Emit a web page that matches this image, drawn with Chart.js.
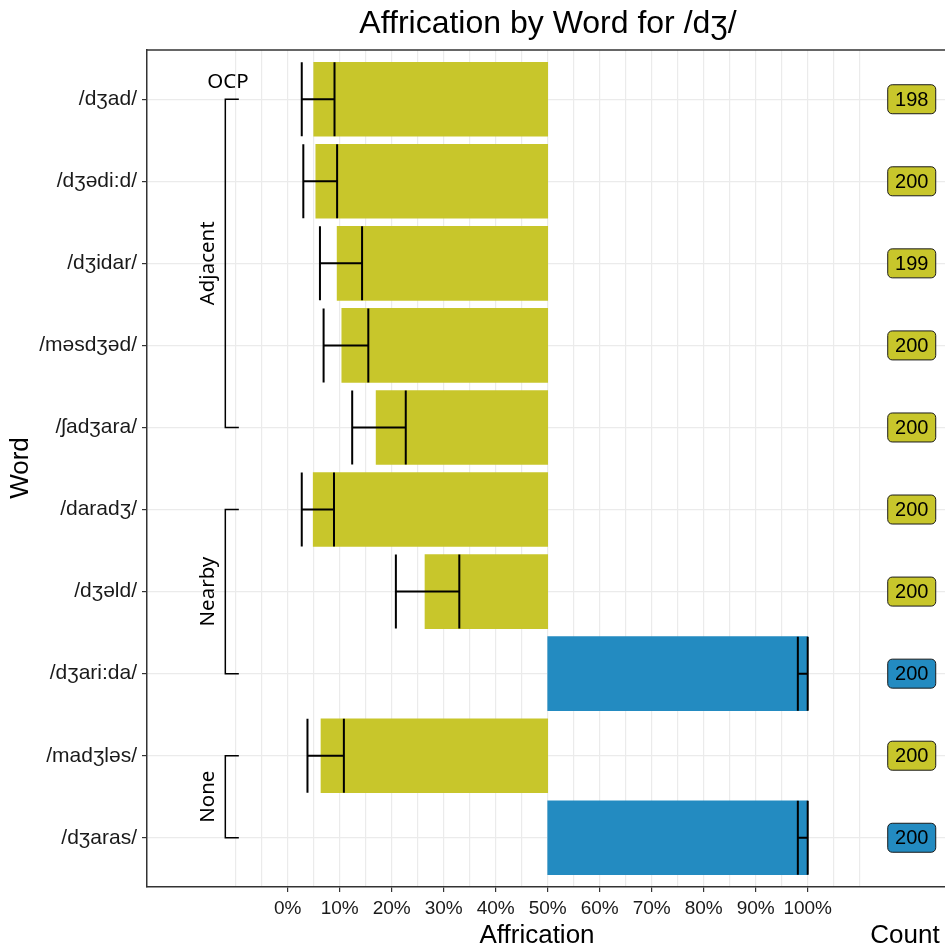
<!DOCTYPE html>
<html>
<head>
<meta charset="utf-8">
<script src="https://cdn.jsdelivr.net/npm/chart.js@4"></script>
<style>
  html, body { margin: 0; padding: 0; background: #fff; overflow: hidden; }
  canvas { display: block; }
</style>
</head>
<body>
<canvas id="chart" width="945" height="948"></canvas>
<script>
// values (percent affrication)
const words = ['/dʒad/', '/dʒədi:d/', '/dʒidar/', '/məsdʒəd/', '/ʃadʒara/',
               '/daradʒ/', '/dʒəld/', '/dʒari:da/', '/madʒləs/', '/dʒaras/'];
const affrication = [5.0, 5.4, 9.5, 10.4, 17.0, 4.9, 26.4, 100, 6.4, 100];
const ciLow  = [2.7, 3.0, 6.2, 6.9, 12.4, 2.7, 20.8, 98.1, 3.8, 98.1];
const ciHigh = [9.0, 9.5, 14.3, 15.5, 22.7, 8.9, 33.0, 100, 10.8, 100];
const counts = [198, 200, 199, 200, 200, 200, 200, 200, 200, 200];

const groupNames = ['Adjacent', 'Nearby', 'None'];
const groupFirst = [0, 5, 8];
const groupLast  = [4, 7, 9];
const subLabel = 'OCP';

const xLabelTicks = [0, 10, 20, 30, 40, 50, 60, 70, 80, 90, 100];
const xGridTicks = [-10, -5, 0, 5, 10, 15, 20, 25, 30, 35, 40, 45, 50, 55,
                    60, 65, 70, 75, 80, 85, 90, 95, 100, 105, 110];

const OLIVE = '#C8C62B';
const BLUE = '#238BC1';
const SANS = '"Liberation Sans", Arial, sans-serif';
const colors = affrication.map(v => v > 50 ? BLUE : OLIVE);

// error bars, brackets, count badges, titles
const extras = {
    id: 'extras',
    afterDatasetsDraw(chart) {
        const ctx = chart.ctx;
        const xs = chart.scales.x, ys = chart.scales.y;
        const area = chart.chartArea;
        ctx.save();

        // top border of the panel
        ctx.strokeStyle = '#333';
        ctx.lineWidth = 1.5;
        ctx.beginPath();
        ctx.moveTo(area.left, area.top);
        ctx.lineTo(area.right, area.top);
        ctx.stroke();

        // error bars
        ctx.strokeStyle = '#000';
        ctx.lineWidth = 2;
        const half = 37;
        words.forEach((w, i) => {
            const y = ys.getPixelForValue(i);
            const x1 = xs.getPixelForValue(ciLow[i]);
            const x2 = xs.getPixelForValue(ciHigh[i]);
            ctx.beginPath();
            ctx.moveTo(x1, y); ctx.lineTo(x2, y);
            ctx.moveTo(x1, y - half); ctx.lineTo(x1, y + half);
            ctx.moveTo(x2, y - half); ctx.lineTo(x2, y + half);
            ctx.stroke();
        });

        // group brackets
        ctx.lineWidth = 1.5;
        ctx.fillStyle = '#000';
        ctx.font = '20.5px "Noto Sans", sans-serif';
        const bx = xs.getPixelForValue(-12);
        const bt = xs.getPixelForValue(-9.4);
        const lx = xs.getPixelForValue(-15.3);
        groupNames.forEach((g, k) => {
            const y1 = ys.getPixelForValue(groupFirst[k]);
            const y2 = ys.getPixelForValue(groupLast[k]);
            ctx.beginPath();
            ctx.moveTo(bt, y1); ctx.lineTo(bx, y1); ctx.lineTo(bx, y2); ctx.lineTo(bt, y2);
            ctx.stroke();
            ctx.save();
            ctx.translate(lx, (y1 + y2) / 2);
            ctx.rotate(-Math.PI / 2);
            ctx.textAlign = 'center';
            ctx.textBaseline = 'middle';
            ctx.fillText(g, 0, 0);
            ctx.restore();
        });
        ctx.textAlign = 'center';
        ctx.textBaseline = 'middle';
        ctx.fillText(subLabel, xs.getPixelForValue(-11.5), ys.getPixelForValue(groupFirst[0]) - 17);

        // count badges
        ctx.font = '20px ' + SANS;
        const cx = xs.getPixelForValue(120);
        counts.forEach((c, i) => {
            const y = ys.getPixelForValue(i);
            ctx.beginPath();
            ctx.roundRect(cx - 24, y - 14.5, 48, 29, 4.5);
            ctx.fillStyle = colors[i];
            ctx.fill();
            ctx.lineWidth = 1;
            ctx.strokeStyle = '#1a1a1a';
            ctx.stroke();
            ctx.fillStyle = '#000';
            ctx.fillText(String(c), cx, y + 1);
        });

        // titles
        ctx.fillStyle = '#000';
        ctx.textBaseline = 'alphabetic';
        ctx.font = '32px ' + SANS;
        ctx.fillText('Affrication by Word for /dʒ/', 548, 33);
        ctx.font = '26px ' + SANS;
        ctx.fillText('Affrication', 537, 943);
        ctx.fillText('Count', 905, 943);
        ctx.save();
        ctx.translate(28, 468);
        ctx.rotate(-Math.PI / 2);
        ctx.fillText('Word', 0, 0);
        ctx.restore();

        ctx.restore();
    }
};

const ctx = document.getElementById('chart');
new Chart(ctx, {
    type: 'bar',
    data: {
        datasets: [{
            data: words.map((w, i) => ({
                y: i,
                x: [Math.min(affrication[i], 50), Math.max(affrication[i], 50)]
            })),
            backgroundColor: colors,
            borderWidth: 0,
            barThickness: 74
        }]
    },
    options: {
        indexAxis: 'y',
        responsive: false,
        animation: false,
        layout: { padding: { top: 50, left: 0, right: 0, bottom: 0 } },
        plugins: {
            legend: { display: false },
            tooltip: { enabled: false }
        },
        scales: {
            x: {
                type: 'linear',
                min: -27.06,
                max: 126.4,
                afterBuildTicks: s => { s.ticks = xGridTicks.map(v => ({ value: v })); },
                afterFit: s => { s.height = 61; },
                ticks: {
                    autoSkip: false,
                    maxRotation: 0,
                    padding: 5,
                    color: '#1a1a1a',
                    font: { family: SANS, size: 19 },
                    callback: v => xLabelTicks.includes(v) ? v + '%' : ''
                },
                grid: {
                    color: '#EBEBEB',
                    lineWidth: 1.2,
                    tickLength: 5,
                    tickColor: c => xLabelTicks.includes(c.tick.value) ? '#333' : 'rgba(0,0,0,0)'
                },
                border: { color: '#333', width: 1.5 }
            },
            y: {
                type: 'linear',
                reverse: true,
                offset: false,
                min: -0.6,
                max: 9.6,
                afterBuildTicks: s => { s.ticks = words.map((w, i) => ({ value: i })); },
                afterFit: s => { s.width = 147; },
                ticks: {
                    autoSkip: false,
                    padding: 5,
                    color: '#1a1a1a',
                    font: { family: SANS, size: 21 },
                    callback: v => words[v]
                },
                grid: {
                    offset: false,
                    color: '#EBEBEB',
                    lineWidth: 1.2,
                    tickLength: 5,
                    tickColor: '#333'
                },
                border: { color: '#333', width: 1.5 }
            }
        }
    },
    plugins: [extras]
});
</script>
</body>
</html>
